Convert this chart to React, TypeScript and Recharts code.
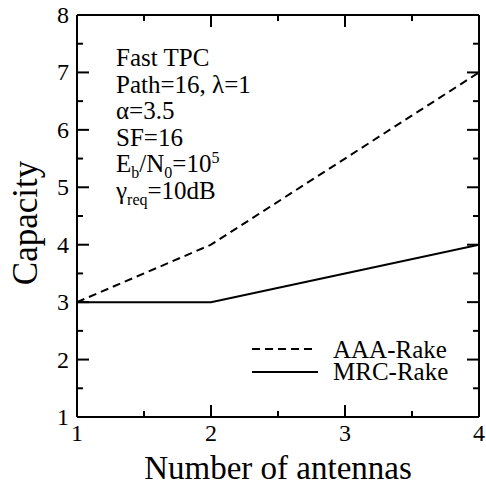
import { LineChart, Line, XAxis, YAxis, Legend } from 'recharts';

const antennas = [1, 2, 3, 4];
const aaaRake = [3, 4, 5.5, 7];
const mrcRake = [3, 3, 3.5, 4];

const xTicks = [1, 1.5, 2, 2.5, 3, 3.5, 4];
const yTicks = [1, 1.5, 2, 2.5, 3, 3.5, 4, 4.5, 5, 5.5, 6, 6.5, 7, 7.5, 8];

const FONT = '"Liberation Serif", "Times New Roman", serif';
const MAJOR = 12;
const MINOR = 6;

const data = antennas.map((a, i) => ({ antennas: a, aaa: aaaRake[i], mrc: mrcRake[i] }));

const isMajor = (v: number) => Number.isInteger(v);

function LeftTick({ x, y, payload }: any) {
  const major = isMajor(payload.value);
  return (
    <g>
      <line x1={x} y1={y} x2={x + (major ? MAJOR : MINOR)} y2={y} stroke="#000" strokeWidth={2} />
      {major && (
        <text x={x - 8} y={y + 8} textAnchor="end" fontFamily={FONT} fontSize={24} fill="#000">
          {payload.value}
        </text>
      )}
    </g>
  );
}

function BottomTick({ x, y, payload }: any) {
  const major = isMajor(payload.value);
  return (
    <g>
      <line x1={x} y1={y} x2={x} y2={y - (major ? MAJOR : MINOR)} stroke="#000" strokeWidth={2} />
      {major && (
        <text x={x} y={y + 24} textAnchor="middle" fontFamily={FONT} fontSize={24} fill="#000">
          {payload.value}
        </text>
      )}
    </g>
  );
}

function RightTick({ x, y, payload }: any) {
  const major = isMajor(payload.value);
  return <line x1={x} y1={y} x2={x - (major ? MAJOR : MINOR)} y2={y} stroke="#000" strokeWidth={2} />;
}

function TopTick({ x, y, payload }: any) {
  const major = isMajor(payload.value);
  return <line x1={x} y1={y} x2={x} y2={y + (major ? MAJOR : MINOR)} stroke="#000" strokeWidth={2} />;
}

function LegendBox() {
  return (
    <svg width={230} height={60} style={{ display: 'block' }}>
      <line x1={2} y1={19} x2={62} y2={19} stroke="#000" strokeWidth={2} strokeDasharray="8 5" />
      <text x={83} y={28} fontFamily={FONT} fontSize={25} fill="#000">AAA-Rake</text>
      <line x1={2} y1={42} x2={68} y2={42} stroke="#000" strokeWidth={2} />
      <text x={83} y={50} fontFamily={FONT} fontSize={25} fill="#000">MRC-Rake</text>
    </svg>
  );
}

const small = { fontSize: 16, lineHeight: 0 } as const;

export default function App() {
  return (
    <div style={{ position: 'fixed', left: 0, top: 0, width: 486, height: 485, background: '#fff' }}>
      <LineChart width={486} height={485} data={data} margin={{ top: 14, right: 6, left: 0, bottom: 0 }}>
        <XAxis
          dataKey="antennas"
          type="number"
          domain={[1, 4]}
          ticks={xTicks}
          interval={0}
          allowDataOverflow
          height={68}
          tickSize={0}
          tickMargin={0}
          tickLine={false}
          axisLine={{ stroke: '#000', strokeWidth: 2 }}
          tick={<BottomTick />}
          label={({ viewBox }: any) => (
            <text x={viewBox.x + viewBox.width / 2} y={479} textAnchor="middle" fontFamily={FONT} fontSize={33} fill="#000">
              Number of antennas
            </text>
          )}
        />
        <XAxis
          xAxisId="top"
          orientation="top"
          dataKey="antennas"
          type="number"
          domain={[1, 4]}
          ticks={xTicks}
          interval={0}
          allowDataOverflow
          height={1}
          tickSize={0}
          tickMargin={0}
          tickLine={false}
          axisLine={{ stroke: '#000', strokeWidth: 2 }}
          tick={<TopTick />}
        />
        <YAxis
          type="number"
          domain={[1, 8]}
          ticks={yTicks}
          interval={0}
          allowDataOverflow
          width={77}
          tickSize={0}
          tickMargin={0}
          tickLine={false}
          axisLine={{ stroke: '#000', strokeWidth: 2 }}
          tick={<LeftTick />}
          label={({ viewBox }: any) => (
            <text
              x={37}
              y={223}
              transform="rotate(-90, 37, 223)"
              textAnchor="middle"
              fontFamily={FONT}
              fontSize={35}
              fill="#000"
            >
              Capacity
            </text>
          )}
        />
        <YAxis
          yAxisId="right"
          orientation="right"
          type="number"
          domain={[1, 8]}
          ticks={yTicks}
          interval={0}
          allowDataOverflow
          width={1}
          tickSize={0}
          tickMargin={0}
          tickLine={false}
          axisLine={{ stroke: '#000', strokeWidth: 2 }}
          tick={<RightTick />}
        />
        <Legend
          layout="horizontal"
          verticalAlign="middle"
          align="center"
          content={<LegendBox />}
          wrapperStyle={{ left: 250, top: 330, width: 230, height: 60 }}
        />
        <Line
          name="AAA-Rake"
          type="linear"
          dataKey="aaa"
          stroke="#000"
          strokeWidth={2}
          strokeDasharray="8 5"
          dot={false}
          isAnimationActive={false}
        />
        <Line
          name="MRC-Rake"
          type="linear"
          dataKey="mrc"
          stroke="#000"
          strokeWidth={2}
          dot={false}
          isAnimationActive={false}
        />
      </LineChart>
      <div
        style={{
          position: 'absolute',
          left: 116,
          top: 45,
          fontFamily: FONT,
          fontSize: 25,
          lineHeight: '26.5px',
          color: '#000',
          whiteSpace: 'nowrap',
        }}
      >
        <div>Fast TPC</div>
        <div>Path=16, λ=1</div>
        <div>α=3.5</div>
        <div>SF=16</div>
        <div>
          E<sub style={small}>b</sub>/N<sub style={small}>0</sub>=10<sup style={small}>5</sup>
        </div>
        <div>
          γ<sub style={small}>req</sub>=10dB
        </div>
      </div>
    </div>
  );
}
